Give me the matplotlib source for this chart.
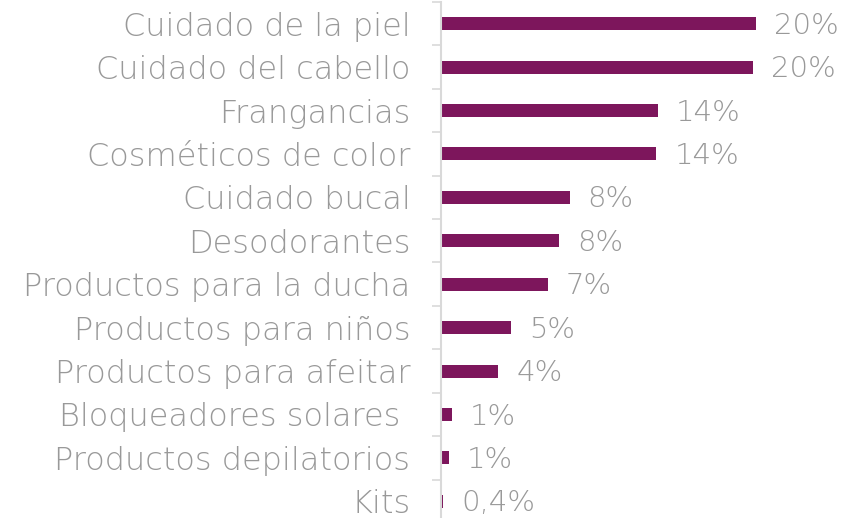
import matplotlib.pyplot as plt
import numpy as np

# data
categories = ["Cuidado de la piel", "Cuidado del cabello", "Frangancias",
              "Cosméticos de color", "Cuidado bucal", "Desodorantes",
              "Productos para la ducha", "Productos para niños",
              "Productos para afeitar", "Bloqueadores solares ",
              "Productos depilatorios", "Kits"]
values = [20.3, 20.1, 14.0, 13.9, 8.3, 7.6, 6.9, 4.5, 3.7, 0.7, 0.5, 0.15]
value_labels = ["20%", "20%", "14%", "14%", "8%", "8%", "7%", "5%", "4%",
                "1%", "1%", "0,4%"]

bar_color = '#7D165C'
text_color = '#999999'
axis_color = '#D9D9D9'

plt.rcParams['font.family'] = ['DejaVu Sans']

fig = plt.figure(figsize=(8.5, 5.18), dpi=100)
ax = fig.add_axes([441/850, -5/518, 399/850, 521/518])

y = np.arange(len(categories))
ax.barh(y, values, height=0.3, color=bar_color, left=0)
ax.set_ylim(len(categories) - 0.5, -0.5)
ax.set_xlim(0, 399/15.5)

# value labels next to the bars
for i in range(len(values)):
    ax.annotate(value_labels[i], (values[i], y[i]), xytext=(13, -1.5),
                textcoords='offset points', va='center', ha='left',
                fontsize=21, color=text_color, fontweight='light')

# axis styling
for s in ['top', 'right', 'bottom']:
    ax.spines[s].set_visible(False)
ax.spines['left'].set_color(axis_color)
ax.spines['left'].set_linewidth(1.5)
ax.set_xticks([])
ax.set_yticks(y)
ax.set_yticklabels(categories, fontsize=23, color=text_color, fontweight='light')
ax.tick_params(axis='y', which='major', length=0, pad=22)
ax.set_yticks(np.arange(len(categories) + 1) - 0.5, minor=True)
ax.tick_params(axis='y', which='minor', length=6.5, width=1.2, color=axis_color)

fig.savefig('out.png', dpi=100)
